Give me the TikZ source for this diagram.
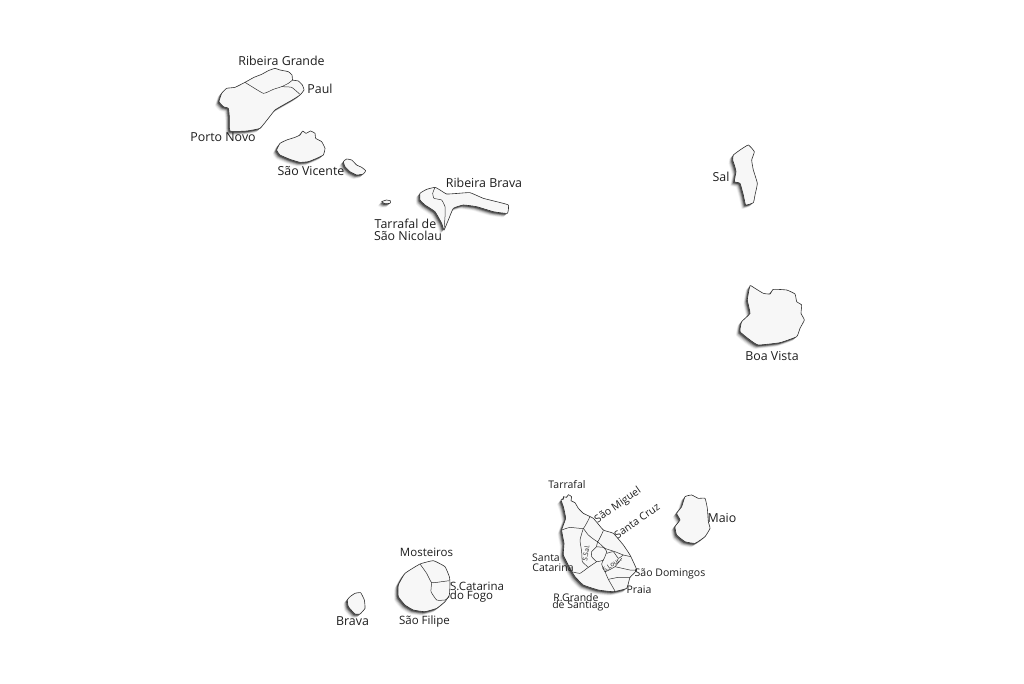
\documentclass[tikz,border=0pt]{standalone}
\usepackage{fontspec}
\setmainfont{Open Sans}
\definecolor{land}{HTML}{F7F7F7}
\definecolor{edge}{HTML}{303030}
\definecolor{ink}{HTML}{1E1E1E}
\tikzset{
  big/.style={text=ink,inner sep=0pt,font=\fontsize{12.4}{12}\selectfont},
  fogo/.style={text=ink,inner sep=0pt,font=\fontsize{11.5}{11}\selectfont},
  mid/.style={text=ink,inner sep=0pt,font=\fontsize{10.5}{10}\selectfont},
  tiny/.style={text=ink,inner sep=0pt,font=\fontsize{6.5}{6}\selectfont},
  border/.style={draw=edge,line width=.6pt,line join=round},
  inner/.style={draw=edge,line width=.5pt,line join=round},
}
\newcommand\shapeat[2]{\path[#1] plot[smooth cycle,tension=.22] coordinates {#2};}
% origin x, origin y, outline
\newcommand\isle[3]{%
  \begin{scope}[shift={(#1,#2)},x=.33333pt,y=-.33333pt]
    \begin{scope}[xshift=-4pt,yshift=-4pt]\shapeat{fill=black,opacity=.05}{#3}\end{scope}
    \begin{scope}[xshift=-3.3pt,yshift=-3.3pt]\shapeat{fill=black,opacity=.10}{#3}\end{scope}
    \begin{scope}[xshift=-2.6pt,yshift=-2.6pt]\shapeat{fill=black,opacity=.16}{#3}\end{scope}
    \begin{scope}[xshift=-1.9pt,yshift=-1.9pt]\shapeat{fill=black,opacity=.24}{#3}\end{scope}
    \begin{scope}[xshift=-1.2pt,yshift=-1.2pt]\shapeat{fill=black,opacity=.4}{#3}\end{scope}
    \shapeat{fill=land,border}{#3}
  \end{scope}}
\newcommand\seam[3]{%
  \begin{scope}[shift={(#1,#2)},x=.33333pt,y=-.33333pt]
    \draw[inner] plot[smooth,tension=.22] coordinates {#3};
  \end{scope}}
\begin{document}
\begin{tikzpicture}[x=1pt,y=-1pt]
\useasboundingbox[fill=white] (0,0) rectangle (1024,683);
% Santo Antao
\isle{180}{50}{(195,97)(222,82)(245,73)(265,62)(285,55)(300,60)(325,65)(336,75)(338,90)(355,93)(367,105)(372,120)(360,135)(340,148)(310,165)(285,180)(265,205)(240,235)(200,243)(150,243)(148,200)(145,175)(130,170)(117,155)(125,130)(140,115)(165,112)}
\seam{180}{50}{(195,97)(250,130)(280,118)(305,110)(325,100)(338,90)}
\seam{180}{50}{(305,110)(335,112)(360,133)}
% Sao Vicente, Santa Luzia
\isle{180}{50}{(345,262)(360,255)(368,243)(378,250)(392,243)(405,250)(407,265)(425,275)(435,295)(430,315)(410,325)(385,335)(360,337)(330,328)(300,315)(290,300)(300,280)(320,270)}
\isle{180}{50}{(490,335)(500,327)(515,330)(530,345)(545,352)(557,362)(550,372)(530,375)(510,365)(495,350)}
% Branco, Sao Nicolau
\isle{370}{170}{(35,95)(50,90)(62,93)(60,100)(45,101)}
\isle{370}{170}{(150,70)(170,58)(195,52)(210,60)(230,72)(265,70)(300,68)(340,85)(380,95)(415,105)(412,130)(370,125)(320,110)(280,105)(250,115)(235,150)(222,180)(215,160)(195,125)(165,105)(150,90)}
\seam{370}{170}{(195,52)(188,70)(192,85)(215,90)(225,110)(225,140)(222,180)}
% Sal, Boa Vista
\isle{700}{140}{(100,45)(120,30)(145,15)(163,35)(155,60)(160,90)(172,130)(165,165)(160,188)(137,195)(130,165)(120,130)(103,125)(108,95)(103,75)(98,60)}
\isle{700}{140}{(150,437)(165,445)(190,460)(210,462)(220,448)(260,450)(285,462)(290,485)(305,495)(303,520)(313,540)(300,565)(290,590)(240,608)(175,615)(150,600)(120,575)(125,545)(150,520)(142,480)}
% Maio
\isle{620}{485}{(195,35)(215,30)(235,40)(255,40)(262,70)(265,110)(270,130)(255,155)(225,175)(195,170)(170,150)(165,125)(180,105)(170,85)(185,65)}
% Santiago
\isle{555}{490}{(18,30)(26,27)(25,20)(35,22)(40,14)(50,20)(48,32)(60,38)(70,55)(85,70)(115,85)(145,120)(175,130)(205,165)(225,195)(245,240)(225,262)(215,295)(175,305)(130,300)(85,285)(60,260)(45,235)(25,195)(27,160)(20,120)(32,85)(25,50)}
\seam{555}{490}{(20,120)(45,112)(85,115)(105,80)}
\seam{555}{490}{(85,115)(100,135)(128,155)(145,122)}
\seam{555}{490}{(128,155)(125,170)(145,172)(155,185)(145,210)(125,215)(110,200)(110,185)(125,170)}
\seam{555}{490}{(128,155)(150,175)(180,185)(205,195)(228,200)}
\seam{555}{490}{(155,190)(175,185)(190,205)(205,195)}
\seam{555}{490}{(200,205)(180,230)(150,245)(140,222)(145,210)}
\seam{555}{490}{(125,215)(100,232)(75,250)(50,245)}
\seam{555}{490}{(85,115)(75,150)(80,185)(82,215)(100,232)}
\seam{555}{490}{(150,245)(160,268)(180,303)}
\seam{555}{490}{(160,268)(190,262)(225,262)}
\seam{555}{490}{(180,230)(225,240)(245,240)}
% Fogo, Brava
\isle{330}{540}{(205,135)(225,100)(270,72)(310,62)(345,80)(358,110)(360,130)(358,165)(345,185)(320,205)(285,215)(250,210)(225,195)(205,170)}
\seam{330}{540}{(270,72)(290,100)(305,128)(335,125)(358,122)}
\seam{330}{540}{(305,128)(303,155)(320,180)(345,180)(358,170)}
\isle{330}{540}{(60,170)(75,160)(92,158)(103,180)(105,205)(90,222)(75,222)(55,200)(52,180)}
% Labels
\node[big] (l1) at (281.5,61) {Ribeira Grande};
\node[big] (l2) at (320,89) {Paul};
\node[big] (l3) at (223,137) {Porto Novo};
\node[big] (l4) at (311,171.5) {São Vicente};
\node[big] (l5) at (484,183) {Ribeira Brava};
\node[big] (l6) at (405.5,224) {Tarrafal de};
\node[big] (l7) at (408,236) {São Nicolau};
\node[big] (l8) at (721,176.5) {Sal};
\node[big] (l9) at (772,356) {Boa Vista};
\node[big] (l10) at (722,517.5) {Maio};
\node[mid] (l11) at (567,485) {Tarrafal};
\node[mid,rotate=35] (l12) at (618,505.5) {São Miguel};
\node[mid,rotate=35] (l13) at (637,521) {Santa Cruz};
\node[mid] (l14) at (546,558) {Santa};
\node[mid] (l15) at (553,568) {Catarina};
\node[mid] (l16) at (670,573.5) {São Domingos};
\node[mid] (l17) at (639,589.5) {Praia};
\node[mid] (l18) at (576,597.5) {R.Grande};
\node[mid] (l19) at (581,605.5) {de Santiago};
\node[fogo] (l20) at (426.5,552) {Mosteiros};
\node[fogo] (l21) at (477,586.5) {S.Catarina};
\node[fogo] (l22) at (471.5,596.5) {do Fogo};
\node[big] (l23) at (352.5,621) {Brava};
\node[fogo] (l24) at (424.5,621.5) {São Filipe};
\node[tiny,rotate=80] (l25) at (586,553) {S.Sal.};
\node[tiny,rotate=35] (l26) at (612,565) {S.Lour.};
\end{tikzpicture}
\end{document}
